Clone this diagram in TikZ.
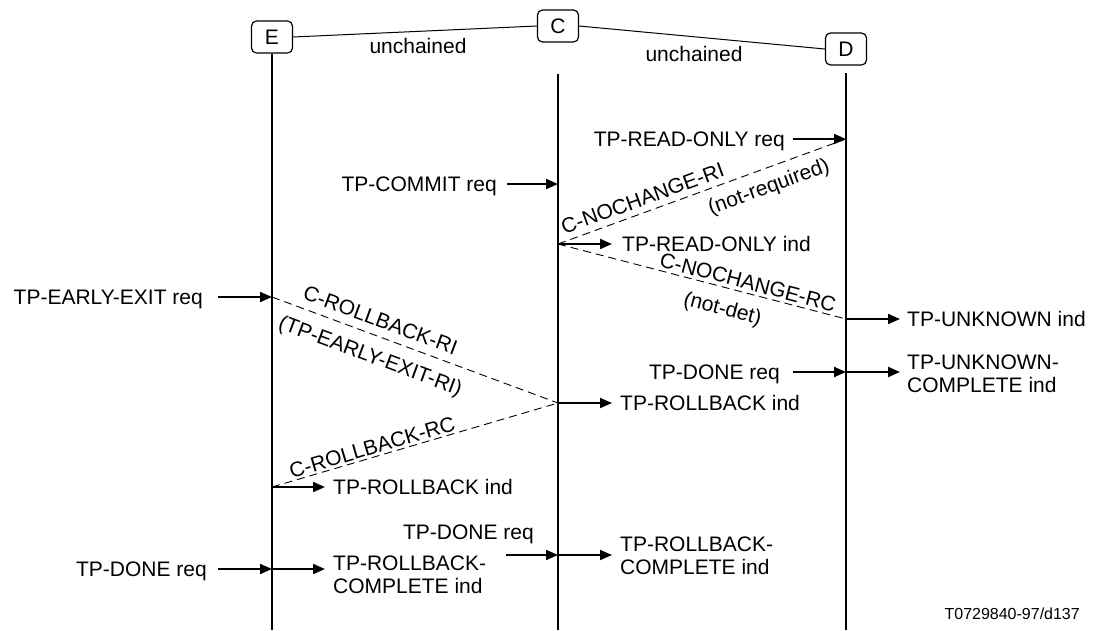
\documentclass[tikz,border=0pt]{standalone}
\usepackage{fontspec}
\setmainfont{Liberation Sans}
\usetikzlibrary{arrows.meta}
\begin{document}
\begin{tikzpicture}[x=1pt,y=-1pt,
  every node/.style={font=\fontsize{21}{23.5}\selectfont, inner sep=0pt},
  obj/.style={draw, line width=1.2pt, rounded corners=5pt, minimum width=41pt, minimum height=32pt},
  life/.style={line width=2pt},
  msg/.style={line width=2pt, -{Triangle[length=12pt,width=10pt]}},
  link/.style={line width=1pt},
  resp/.style={line width=0.9pt, dash pattern=on 8pt off 5pt},
  lr/.style={anchor=base east, yshift=-7.5pt},
  ll/.style={anchor=base west, yshift=-7.5pt},
  ml/.style={anchor=west, align=left},
  slab/.style={sloped, inner sep=0pt},
]
\useasboundingbox (0,0) rectangle (1093,630);

% objects
\node[obj] (E) at (272,37) {E};
\node[obj] (C) at (558,26) {C};
\node[obj] (D) at (846,49) {D};
\draw[link] (E.east) -- (C.west);
\draw[link] (C.east) -- (D.west);
\node (u1) at (418,46) {unchained};
\node (u2) at (694,54) {unchained};

% lifelines
\coordinate (Eb) at (272,630);
\coordinate (Ct) at (558,74);
\coordinate (Cb) at (558,630);
\coordinate (Dt) at (846,73);
\coordinate (Db) at (846,630);
\draw[life] (E.south) -- (Eb);
\draw[life] (Ct) -- (Cb);
\draw[life] (Dt) -- (Db);

% TP-READ-ONLY req
\coordinate (a1) at (793,139); \coordinate (D1) at (846,139);
\node[lr] (t1) at (785,139) {TP-READ-ONLY req};
\draw[msg] (a1) -- (D1);

% TP-COMMIT req
\coordinate (a2) at (507,184); \coordinate (C2) at (558,184);
\node[lr] (t2) at (497,184) {TP-COMMIT req};
\draw[msg] (a2) -- (C2);

% TP-READ-ONLY ind
\coordinate (C3) at (558,244); \coordinate (b3) at (612,244);
\node[ll] (t3) at (622,244) {TP-READ-ONLY ind};
\draw[msg] (C3) -- (b3);

% C-NOCHANGE-RI
\draw[resp] (C3) -- node[slab, above=6pt, pos=0.31] (l1) {C-NOCHANGE-RI}
                     node[slab, below=9pt, pos=0.71] (l2) {(not-required)} (D1);

% C-NOCHANGE-RC
\coordinate (D4) at (846,319); \coordinate (b4) at (900,319);
\draw[resp] (C3) -- node[slab, above=3pt, pos=0.65] (l3) {C-NOCHANGE-RC}
                     node[slab, below=12pt, pos=0.59] (l4) {(not-det)} (D4);
\node[ll] (t4) at (907,319) {TP-UNKNOWN ind};
\draw[msg] (D4) -- (b4);

% TP-EARLY-EXIT req
\coordinate (a5) at (218,297); \coordinate (E5) at (272,297);
\node[lr] (t5) at (203,297) {TP-EARLY-EXIT req};
\draw[msg] (a5) -- (E5);

% C-ROLLBACK-RI
\coordinate (C6) at (558,403); \coordinate (b6) at (612,403);
\draw[resp] (E5) -- node[slab, above=8pt, pos=0.36] (l5) {C-ROLLBACK-RI}
                     node[slab, below=12pt, pos=0.37] (l6) {(TP-EARLY-EXIT-RI)} (C6);
\node[ll] (t6) at (620,403) {TP-ROLLBACK ind};
\draw[msg] (C6) -- (b6);

% TP-DONE req at D
\coordinate (a7) at (793,372); \coordinate (D7) at (846,372); \coordinate (b7) at (900,372);
\node[lr] (t7) at (780,372) {TP-DONE req};
\draw[msg] (a7) -- (D7);
\draw[msg] (D7) -- (b7);
\node[ml] (t7b) at (907,374) {TP-UNKNOWN-\\COMPLETE ind};

% C-ROLLBACK-RC
\coordinate (E8) at (272,487); \coordinate (b8) at (325,487);
\draw[resp] (E8) -- node[slab, above=2pt, pos=0.36] (l7) {C-ROLLBACK-RC} (C6);
\node[ll] (t8) at (333,487) {TP-ROLLBACK ind};
\draw[msg] (E8) -- (b8);

% TP-DONE req at C
\coordinate (a9) at (506,555); \coordinate (C9) at (558,555); \coordinate (b9) at (612,555);
\node[lr] (t9) at (534,532) {TP-DONE req};
\draw[msg] (a9) -- (C9);
\draw[msg] (C9) -- (b9);
\node[ml] (t9b) at (620,556) {TP-ROLLBACK-\\COMPLETE ind};

% TP-DONE req at E
\coordinate (a10) at (218,569); \coordinate (E10) at (272,569); \coordinate (b10) at (325,569);
\node[lr] (t10) at (207,569) {TP-DONE req};
\draw[msg] (a10) -- (E10);
\draw[msg] (E10) -- (b10);
\node[ml] (t10b) at (333,575) {TP-ROLLBACK-\\COMPLETE ind};

% figure code
\node[anchor=base east, font=\fontsize{16}{19}\selectfont] (code) at (1080,619) {T0729840-97/d137};
\end{tikzpicture}
\end{document}
